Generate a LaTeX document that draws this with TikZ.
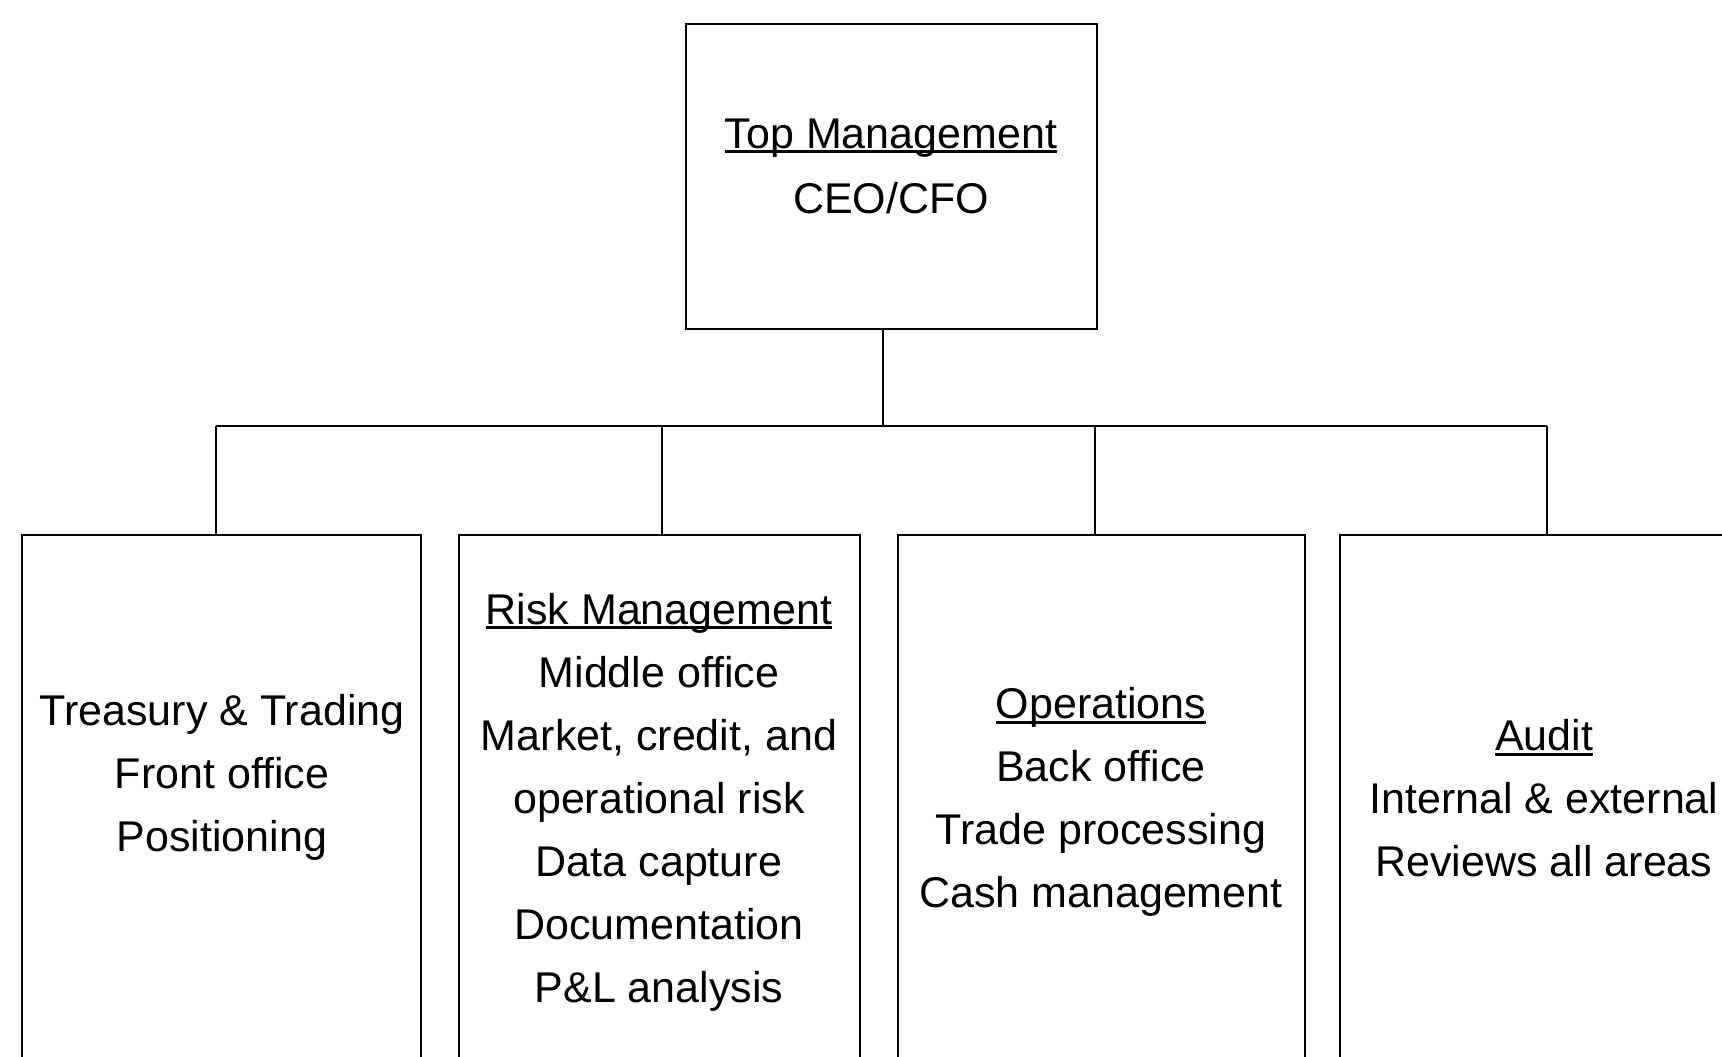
\documentclass[tikz,border=0pt]{standalone}
\usepackage{fontspec}
\setmainfont{Liberation Sans}
\newsavebox\myulbox
\newcommand{\myul}[1]{\sbox\myulbox{#1}\rlap{\rule[-0.12em]{\wd\myulbox}{0.07em}}\usebox\myulbox}
\begin{document}
\begin{tikzpicture}[x=0.5pt,y=-0.5pt,
  boxstyle/.style={draw=black,line width=1.4pt,rectangle,inner sep=0pt,outer sep=0pt},
  txt/.style={align=center,inner sep=0pt,font=\fontsize{21.5pt}{31.5pt}\selectfont},
  conn/.style={draw=black,line width=1.4pt}]
\useasboundingbox (0,0) rectangle (1722,1056);
\fill[white] (0,0) rectangle (1722,1056);
\clip (0,0) rectangle (1722,1056);
% boxes
\node[boxstyle,minimum width=205.5pt,minimum height=152.5pt] (top) at (891.5,176.5) {};
\node[boxstyle,minimum width=199.5pt,minimum height=292.5pt] (b1) at (221.5,827.5) {};
\node[boxstyle,minimum width=200.5pt,minimum height=292.5pt] (b2) at (659.5,827.5) {};
\node[boxstyle,minimum width=203.5pt,minimum height=292.5pt] (b3) at (1101.5,827.5) {};
\node[boxstyle,minimum width=202.5pt,minimum height=292.5pt] (b4) at (1542.5,827.5) {};
% texts
\node[txt,font=\fontsize{21.5pt}{32.5pt}\selectfont] (ttop) at (891,166) {\myul{Top Management}\\CEO/CFO};
\node[txt] (t1) at (222,777) {Treasury \& Trading\\Front office\\Positioning};
\node[txt] (t2) at (659,802) {\myul{Risk Management}\\Middle office\\Market, credit, and\\operational risk\\Data capture\\Documentation\\P\&L analysis};
\node[txt] (t3) at (1101,802) {\myul{Operations}\\Back office\\Trade processing\\Cash management};
\node[txt] (t4) at (1544,798) {\myul{Audit}\\Internal \& external\\Reviews all areas};
% connectors
\coordinate (j) at (883,426);
\coordinate (k1) at (216,426);
\coordinate (k2) at (662,426);
\coordinate (k3) at (1095,426);
\coordinate (k4) at (1547,426);
\draw[conn] (top.south -| j) -- (j);
\draw[conn] (k1) -- (k4);
\draw[conn] (k1) -- (k1 |- b1.north);
\draw[conn] (k2) -- (k2 |- b2.north);
\draw[conn] (k3) -- (k3 |- b3.north);
\draw[conn] (k4) -- (k4 |- b4.north);
\end{tikzpicture}
\end{document}
